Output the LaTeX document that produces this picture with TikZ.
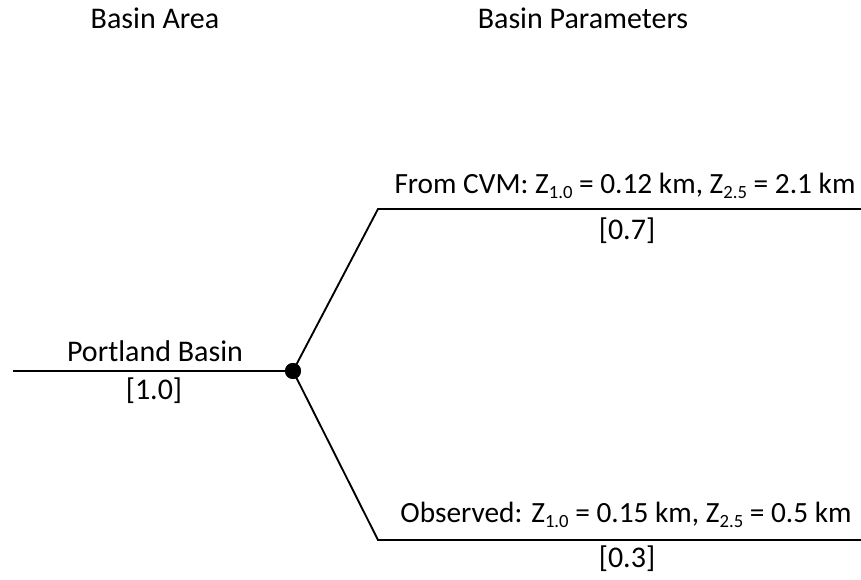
\documentclass[tikz,border=0pt]{standalone}
\usepackage{fontspec}
\setmainfont{Carlito}
\usetikzlibrary{positioning}
\newcommand{\zsub}[1]{\raisebox{-0.33ex}{\fontsize{14}{15}\selectfont #1}}

\begin{document}
\begin{tikzpicture}[
    x=0.75pt, y=-0.75pt,
    label/.style={inner sep=0pt, anchor=base, font=\fontsize{22.5}{27}\selectfont},
    longlabel/.style={label, font=\fontsize{22}{27}\selectfont},
    branch/.style={line width=1.4pt, black},
    chance/.style={circle, fill=black, inner sep=0pt, minimum size=12pt}
  ]
    \useasboundingbox (0,0) rectangle (861,580);

    % headers
    \node[label] (harea)  at (155,29) {Basin Area};
    \node[label] (hparam) at (583,29) {Basin Parameters};

    % tree
    \coordinate (root) at (13,371);
    \node[chance] (dot) at (293,371) {};
    \coordinate (cvmstart) at (378,209);
    \coordinate (cvmend)   at (861,209);
    \coordinate (obsstart) at (378,540);
    \coordinate (obsend)   at (861,540);

    \draw[branch] (root) -- (dot);
    \draw[branch] (dot.center) -- (cvmstart) -- (cvmend);
    \draw[branch] (dot.center) -- (obsstart) -- (obsend);
    \node[chance] at (dot) {};

    % labels
    \node[label] (pb)   at (155,362) {Portland Basin};
    \node[label] (pbw)  at (154,400) {[1.0]};
    \node[longlabel] (cvm)  at (625,194) {From CVM: Z\zsub{1.0} = 0.12 km, Z\zsub{2.5} = 2.1 km};
    \node[label] (cvmw) at (627,240) {[0.7]};
    \node[longlabel] (obs)  at (626,523) {Observed: Z\zsub{1.0} = 0.15 km, Z\zsub{2.5} = 0.5 km};
    \node[label] (obsw) at (627,568) {[0.3]};
  \end{tikzpicture}
\end{document}
